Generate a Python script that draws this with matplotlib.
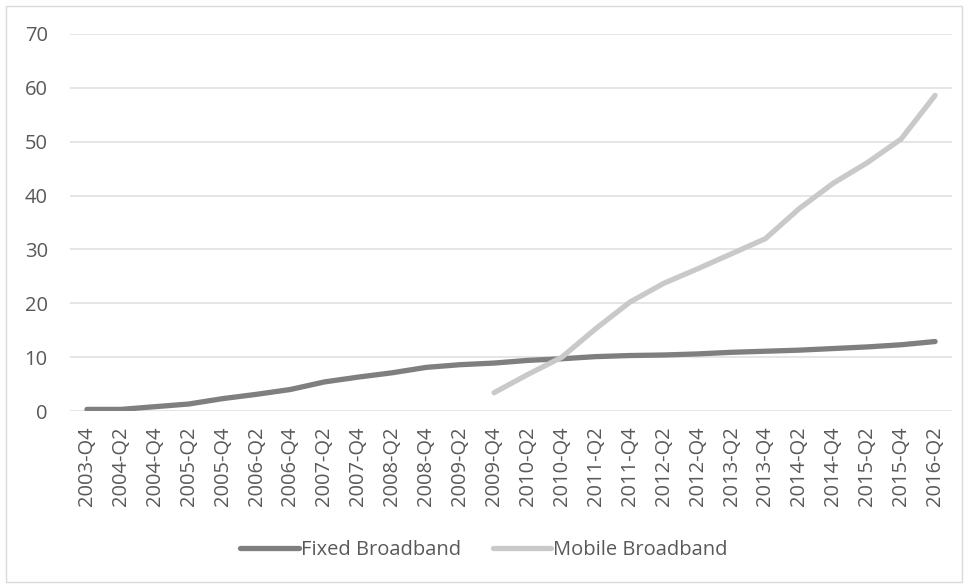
import matplotlib
matplotlib.use("Agg")
import matplotlib.pyplot as plt
from matplotlib.patches import Rectangle

# half-yearly periods
periods = ["2003-Q4", "2004-Q2", "2004-Q4", "2005-Q2", "2005-Q4", "2006-Q2",
           "2006-Q4", "2007-Q2", "2007-Q4", "2008-Q2", "2008-Q4", "2009-Q2",
           "2009-Q4", "2010-Q2", "2010-Q4", "2011-Q2", "2011-Q4", "2012-Q2",
           "2012-Q4", "2013-Q2", "2013-Q4", "2014-Q2", "2014-Q4", "2015-Q2",
           "2015-Q4", "2016-Q2"]

fixed_bb = [0.3, 0.3, 0.8, 1.3, 2.3, 3.1, 4.0, 5.4, 6.3, 7.1, 8.1, 8.6,
            8.9, 9.4, 9.7, 10.1, 10.3, 10.4, 10.6, 10.9, 11.1, 11.3, 11.6,
            11.9, 12.3, 12.9]

# mobile series starts at 2009-Q4
mobile_start = "2009-Q4"
mobile_bb = [3.4, 6.8, 10.0, 15.3, 20.2, 23.7, 26.4, 29.2, 32.0, 37.6,
             42.3, 46.1, 50.5, 58.6]

yticks = [0, 10, 20, 30, 40, 50, 60, 70]

text_col = "#595959"
plt.rcParams["font.family"] = ["Open Sans", "DejaVu Sans"]

fig = plt.figure(figsize=(9.68, 5.88), dpi=100)
ax = fig.add_axes([0.0723, 0.301, 0.9112, 0.6412])

x = list(range(len(periods)))
i0 = periods.index(mobile_start)
ax.plot(x, fixed_bb, color="#7f7f7f", lw=3.8, solid_capstyle="round",
        label="Fixed Broadband")
ax.plot(x[i0:], mobile_bb, color="#c9c9c9", lw=3.8, solid_capstyle="round",
        label="Mobile Broadband")

ax.set_xlim(-0.5, len(periods) - 0.5)
ax.set_ylim(0, 70)
ax.set_yticks(yticks)
ax.set_xticks(x)
ax.set_xticklabels(periods, rotation=90)
ax.tick_params(axis="both", length=0, colors=text_col, labelsize=14.5)
ax.tick_params(axis="y", pad=16)
ax.tick_params(axis="x", pad=11)
ax.grid(axis="y", color="#e0e0e0", lw=1.2)
ax.set_axisbelow(True)
for s in ax.spines.values():
    s.set_visible(False)

leg = fig.legend(loc="center", bbox_to_anchor=(0.5, 0.064), ncol=2,
                 frameon=False, fontsize=14.5, handlelength=2.9,
                 handletextpad=0.1, columnspacing=1.6)
for t in leg.get_texts():
    t.set_color(text_col)

# outer chart border
fig.patches.append(Rectangle((0.006, 0.01), 0.988, 0.98, transform=fig.transFigure,
                             fill=False, edgecolor="#d9d9d9", lw=1))

fig.savefig("out.png", dpi=100)
